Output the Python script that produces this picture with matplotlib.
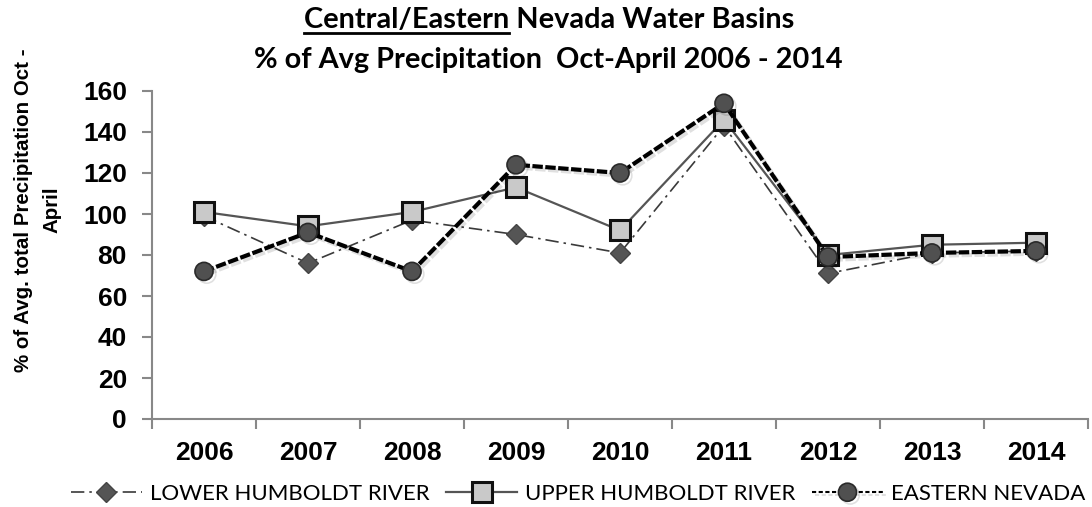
import matplotlib
matplotlib.use("Agg")
import matplotlib.pyplot as plt
import matplotlib.patheffects as pe
from matplotlib.lines import Line2D

# data
years = ["2006", "2007", "2008", "2009", "2010", "2011", "2012", "2013", "2014"]
lower_humboldt = [99, 76, 97, 90, 81, 143, 71, 81, 82]
upper_humboldt = [101, 94, 101, 113, 92, 146, 80, 85, 86]
eastern_nevada = [72, 91, 72, 124, 120, 154, 79, 81, 82]
y_ticks = [0, 20, 40, 60, 80, 100, 120, 140, 160]

title_top = "Central/Eastern Nevada Water Basins"
title_under = "Central/Eastern"
title_bottom = "% of Avg Precipitation  Oct-April 2006 - 2014"
ylabel = "% of Avg. total Precipitation Oct -\nApril"

W, H = 1092, 507
fig = plt.figure(figsize=(W / 100, H / 100), dpi=100)
ax = fig.add_axes([152 / W, 88 / H, 936 / W, 328 / H])

x = list(range(len(years)))
shadow = [pe.SimpleLineShadow(offset=(2, -2), alpha=0.12, shadow_color="black"), pe.Normal()]

ax.plot(x, lower_humboldt, color="#3a3a3a", lw=1.2, ls=(0, (8, 3, 1.5, 3)),
        marker="D", ms=10, mfc="#555555", mec="#444444", mew=1,
        label="LOWER HUMBOLDT RIVER", zorder=3)
ax.plot(x, upper_humboldt, color="#555555", lw=1.6, ls="-",
        marker="s", ms=15, mfc="#c9c9c9", mec="#111111", mew=2.2,
        label="UPPER HUMBOLDT RIVER", zorder=4)
ax.plot(x, eastern_nevada, color="#000000", lw=3, ls=(0, (2.5, 0.6)),
        marker="o", ms=13, mfc="#505050", mec="#2a2a2a", mew=1.2,
        label="EASTERN NEVADA", zorder=5, path_effects=shadow)

ax.set_xlim(-0.5, len(years) - 0.5)
ax.set_ylim(0, 160)
ax.set_yticks(y_ticks)
ax.set_yticklabels([str(v) for v in y_ticks], fontsize=19, fontweight="bold",
                   family="Liberation Sans")
ax.set_xticks([i - 0.5 for i in range(len(years) + 1)])
ax.set_xticklabels([])
ax.set_xticks(x, minor=True)
ax.set_xticklabels(years, minor=True, fontsize=19, fontweight="bold",
                   family="Liberation Sans")
ax.tick_params(axis="x", which="major", length=7, width=1.5, color="#888888")
ax.tick_params(axis="x", which="minor", length=0, pad=16)
ax.tick_params(axis="y", length=7, width=1.5, color="#888888", pad=11)

for side in ["top", "right"]:
    ax.spines[side].set_visible(False)
for side in ["left", "bottom"]:
    ax.spines[side].set_color("#888888")
    ax.spines[side].set_linewidth(1.5)

fig.text(38 / W, (H - 210) / H, ylabel, rotation=90, ha="center", va="center",
         fontsize=14.8, fontweight="bold", family="Liberation Sans",
         multialignment="center", linespacing=1.6)

# two-line title, first part of line one underlined
t1 = fig.text(549 / W, (H - 28) / H, title_top, ha="center", va="baseline",
              fontsize=20.8, fontweight="bold", family="Lato")
fig.text(548 / W, (H - 68) / H, title_bottom, ha="center", va="baseline",
         fontsize=20.8, fontweight="bold", family="Lato")
renderer = fig.canvas.get_renderer()
bb = t1.get_window_extent(renderer)
tmp = fig.text(0, 0, title_under, fontsize=20.8, fontweight="bold", family="Lato")
w = tmp.get_window_extent(renderer).width
tmp.remove()
fig.add_artist(Line2D([bb.x0 / W, (bb.x0 + w) / W], [(H - 33) / H, (H - 33) / H],
                      color="black", lw=2, transform=fig.transFigure))

leg = fig.legend(loc="center", bbox_to_anchor=(578 / W, (H - 494) / H), ncol=3,
                 frameon=False, handlelength=3.2, handletextpad=0.35, columnspacing=0.75,
                 prop={"family": "Lato", "size": 16})
for line in leg.get_lines():
    if line.get_label() == "EASTERN NEVADA":
        line.set_linestyle((0, (2, 1.2)))
        line.set_linewidth(1.5)

fig.savefig("out.png", dpi=100)
